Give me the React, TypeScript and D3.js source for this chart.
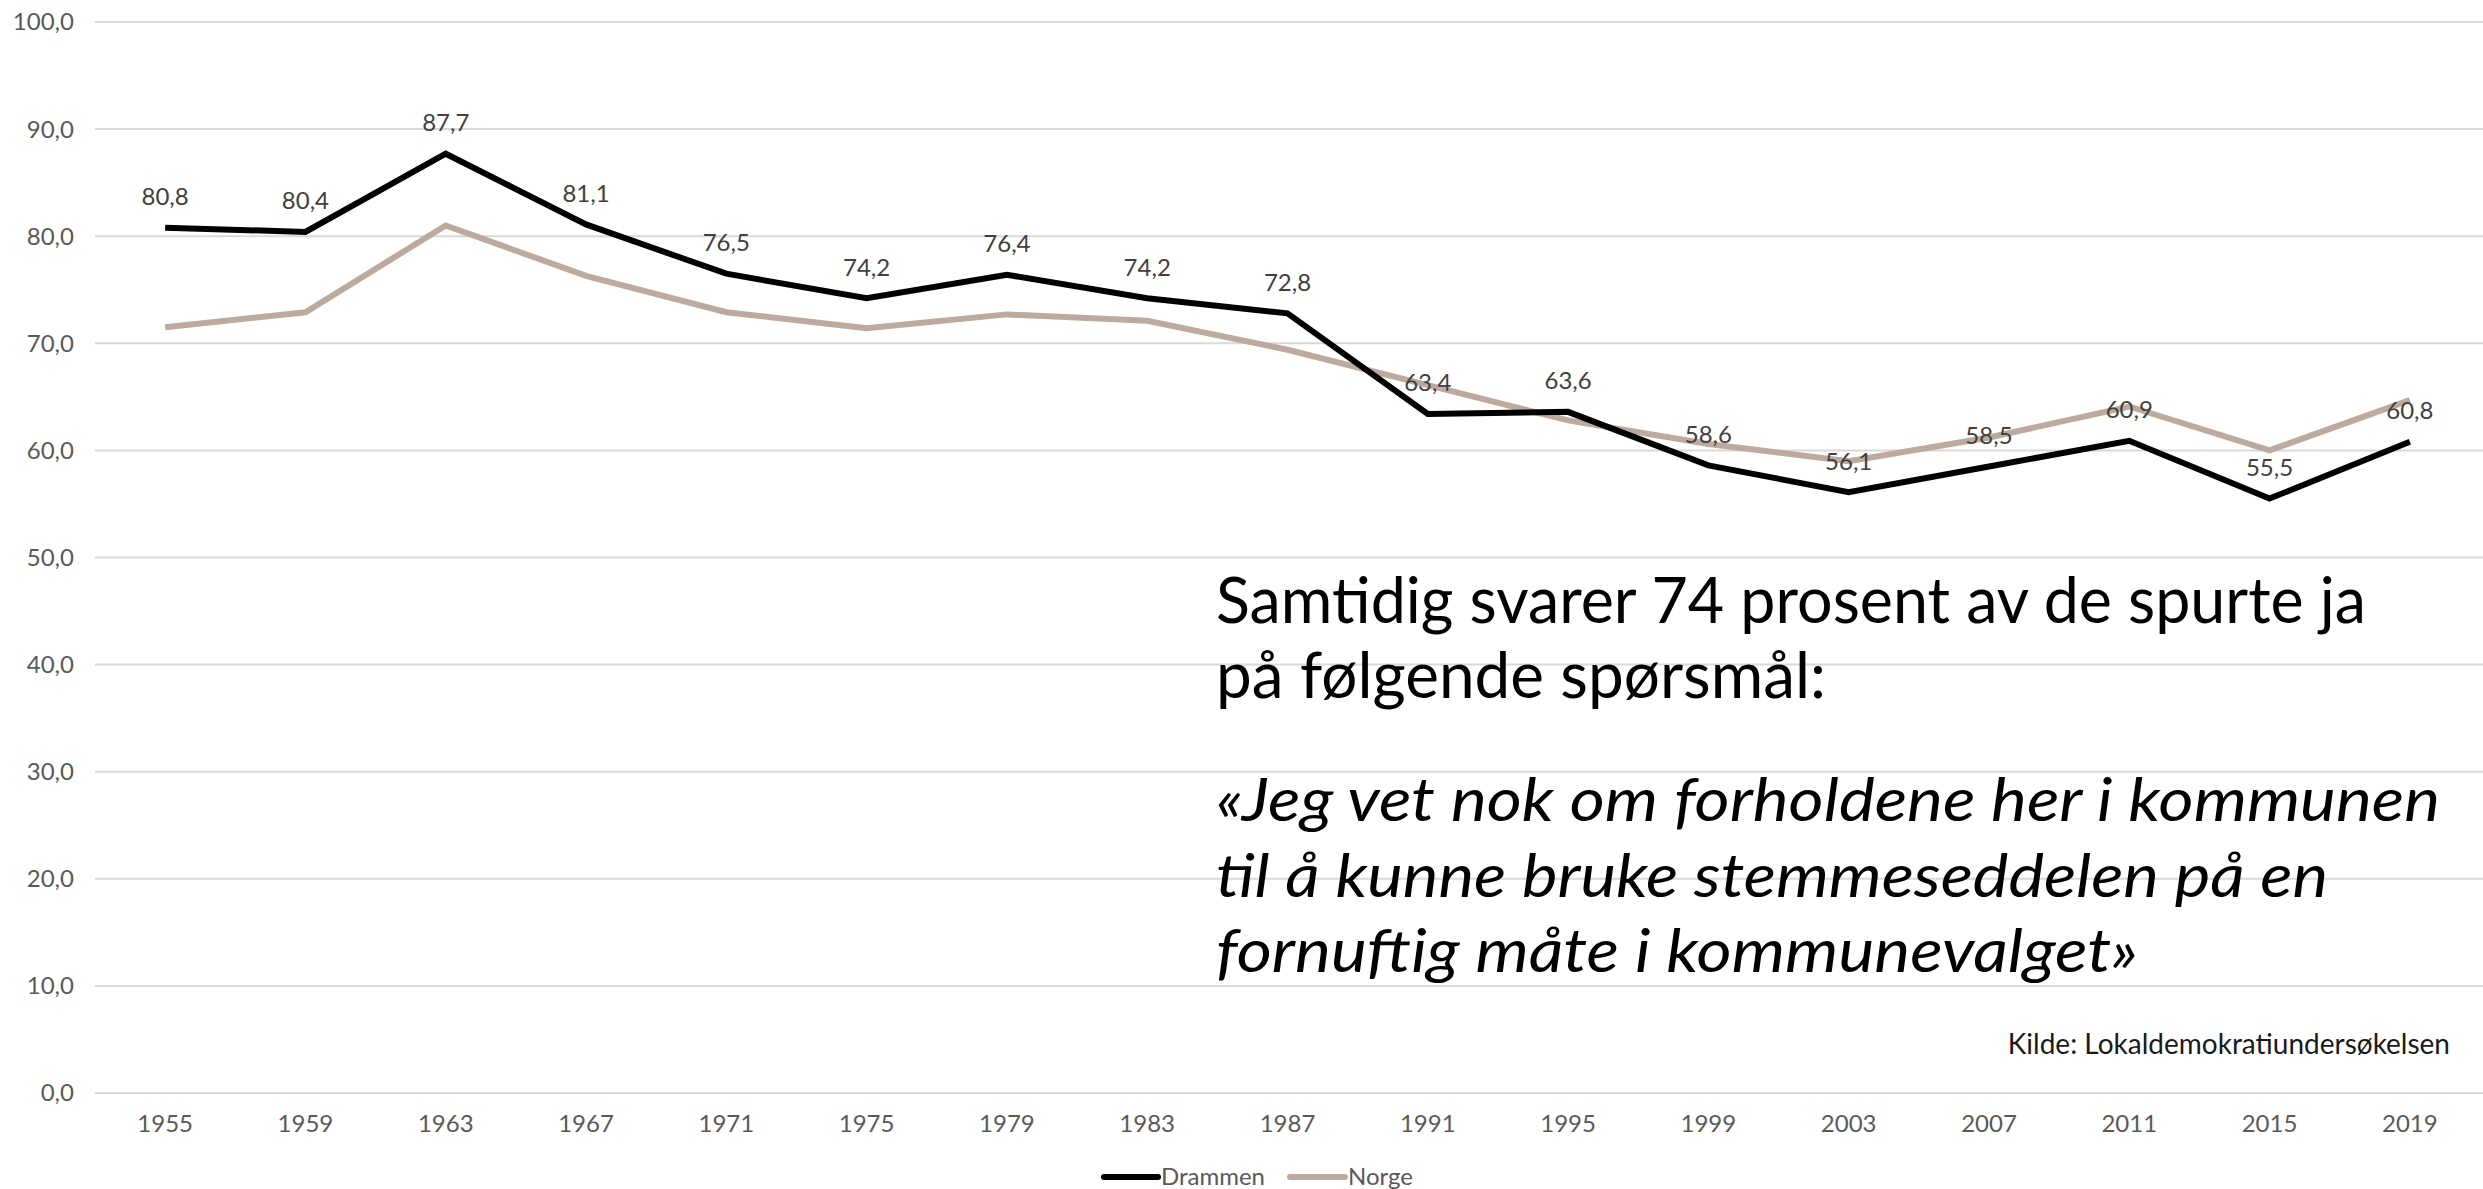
import React from "react";
import * as d3 from "d3";

const years = ["1955", "1959", "1963", "1967", "1971", "1975", "1979", "1983", "1987",
  "1991", "1995", "1999", "2003", "2007", "2011", "2015", "2019"];
const drammen = [80.8, 80.4, 87.7, 81.1, 76.5, 74.2, 76.4, 74.2, 72.8,
  63.4, 63.6, 58.6, 56.1, 58.5, 60.9, 55.5, 60.8];
const norge = [71.5, 72.9, 81.0, 76.3, 72.9, 71.4, 72.7, 72.1, 69.4,
  66.1, 62.8, 60.6, 59.0, 61.2, 64.1, 60.0, 64.7];
const yTicks = [0, 10, 20, 30, 40, 50, 60, 70, 80, 90, 100];

const W = 2483, H = 1189;
const left = 95, right = 2480, top = 22, bottom = 1093;
const font = "Lato, 'Open Sans', sans-serif";

const fmt = (v: number) => v.toFixed(1).replace(".", ",");

export default function App() {
  const x = d3.scalePoint<string>().domain(years).range([left, right]).padding(0.5);
  const y = d3.scaleLinear().domain([0, 100]).range([bottom, top]);

  const line = d3.line<number>()
    .x((_, i) => x(years[i]) as number)
    .y(d => y(d));

  return (
    <svg width={W} height={H} style={{ position: "absolute", left: 0, top: 0, background: "#fff" }}
      fontFamily={font}>
      {/* grid + y axis */}
      {yTicks.map(t => (
        <g key={t}>
          <line x1={left} x2={W} y1={y(t)} y2={y(t)} stroke="#d9d9d9" strokeWidth={2} />
          <text x={74} y={y(t)} dy="0.35em" textAnchor="end" fontSize={24} fill="#595959">{fmt(t)}</text>
        </g>
      ))}
      {/* x axis labels */}
      {years.map(yr => (
        <text key={yr} x={x(yr)} y={1124} dy="0.35em" textAnchor="middle" fontSize={24} fill="#595959">{yr}</text>
      ))}

      {/* lines */}
      <path d={line(norge) || ""} fill="none" stroke="#bcaa9e" strokeWidth={6} />
      <path d={line(drammen) || ""} fill="none" stroke="#000" strokeWidth={6} />

      {/* data labels */}
      {drammen.map((v, i) => (
        <text key={i} x={x(years[i])} y={y(v) - 31} dy="0.35em" textAnchor="middle" fontSize={24} fill="#404040">{fmt(v)}</text>
      ))}

      {/* annotation */}
      <g fill="#000">
        <text x={1216} y={623} fontSize={63} textLength={1150} lengthAdjust="spacingAndGlyphs">Samtidig svarer 74 prosent av de spurte ja</text>
        <text x={1216} y={698} fontSize={63} textLength={610} lengthAdjust="spacingAndGlyphs">på følgende spørsmål:</text>
        <text x={1216} y={821} fontSize={60} fontStyle="italic" textLength={1224} lengthAdjust="spacingAndGlyphs">«Jeg vet nok om forholdene her i kommunen</text>
        <text x={1216} y={897} fontSize={60} fontStyle="italic" textLength={1112} lengthAdjust="spacingAndGlyphs">til å kunne bruke stemmeseddelen på en</text>
        <text x={1216} y={972} fontSize={60} fontStyle="italic" textLength={922} lengthAdjust="spacingAndGlyphs">fornuftig måte i kommunevalget»</text>
        <text x={2450} y={1054} fontSize={28} textAnchor="end" fill="#1a1a1a">Kilde: Lokaldemokratiundersøkelsen</text>
      </g>

      {/* legend */}
      <line x1={1104} x2={1158} y1={1177} y2={1177} stroke="#000" strokeWidth={6} strokeLinecap="round" />
      <text x={1161} y={1177} dy="0.35em" fontSize={24} fill="#595959">Drammen</text>
      <line x1={1290} x2={1345} y1={1177} y2={1177} stroke="#bcaa9e" strokeWidth={6} strokeLinecap="round" />
      <text x={1348} y={1177} dy="0.35em" fontSize={24} fill="#595959">Norge</text>
    </svg>
  );
}
